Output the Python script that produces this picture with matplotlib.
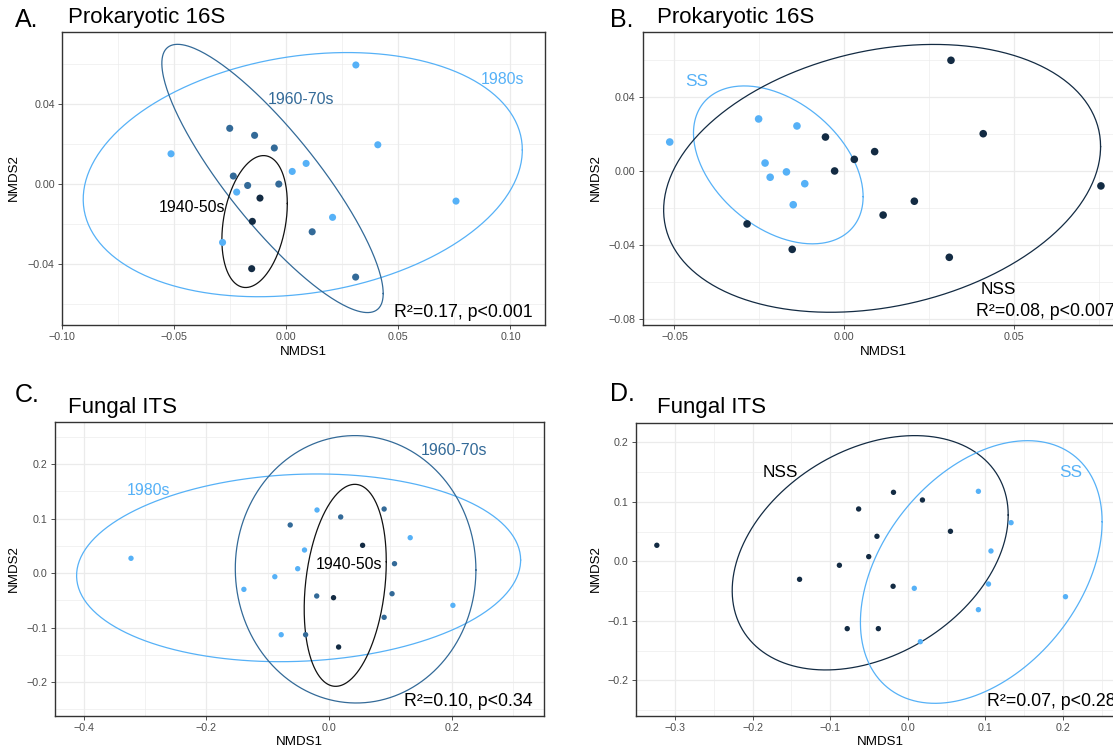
import numpy as np
import matplotlib
matplotlib.use("Agg")
import matplotlib.pyplot as plt
from matplotlib.ticker import FixedLocator, FuncFormatter

plt.rcParams['font.family'] = ['Liberation Sans', 'DejaVu Sans']

# ---------------- data ----------------
# Panel A: prokaryotic 16S, by decade
a_1980s_x = [-0.0515, 0.0310, 0.0408, 0.0757, 0.0088, 0.0026, -0.0222, 0.0206, -0.0285]
a_1980s_y = [0.0151, 0.0594, 0.0196, -0.0085, 0.0103, 0.0063, -0.0040, -0.0166, -0.0291]
a_1960_x = [-0.0253, -0.0142, -0.0054, -0.0237, -0.0173, -0.0034, 0.0115, 0.0309]
a_1960_y = [0.0278, 0.0243, 0.0180, 0.0040, -0.0007, 0.0000, -0.0238, -0.0464]
a_1940_x = [-0.0118, -0.0152, -0.0155]
a_1940_y = [-0.0070, -0.0186, -0.0422]

# Panel B: prokaryotic 16S, SS vs NSS
b_ss_x = [-0.0514, -0.0252, -0.0139, -0.0233, -0.0218, -0.0170, -0.0116, -0.0150]
b_ss_y = [0.0157, 0.0282, 0.0244, 0.0043, -0.0034, -0.0005, -0.0069, -0.0183]
b_nss_x = [0.0315, 0.0410, -0.0055, 0.0090, 0.0030, -0.0028, 0.0757, 0.0207, 0.0115, -0.0286, -0.0153, 0.0310]
b_nss_y = [0.0600, 0.0202, 0.0184, 0.0105, 0.0063, 0.0000, -0.0081, -0.0164, -0.0239, -0.0287, -0.0425, -0.0468]

# Panel C: fungal ITS, by decade
c_1980s_x = [-0.3226, -0.1386, -0.0882, -0.0778, -0.0509, -0.0398, -0.0194, 0.1325, 0.2021]
c_1980s_y = [0.0270, -0.0300, -0.0068, -0.1132, 0.0079, 0.0422, 0.1156, 0.0648, -0.0593]
c_1960_x = [-0.0631, 0.0192, 0.0900, 0.1069, 0.1029, 0.0900, -0.0199, -0.0380]
c_1960_y = [0.0881, 0.1028, 0.1174, 0.0171, -0.0380, -0.0813, -0.0422, -0.1132]
c_1940_x = [0.0549, 0.0075, 0.0158]
c_1940_y = [0.0508, -0.0453, -0.1358]

# Panel D: fungal ITS, SS vs NSS
d_nss_x = [-0.3233, -0.1394, -0.0881, -0.0780, -0.0503, -0.0397, -0.0379, -0.0633, -0.0184, -0.0189, 0.0189, 0.0550]
d_nss_y = [0.0269, -0.0303, -0.0067, -0.1132, 0.0078, 0.0420, -0.1132, 0.0879, 0.1159, -0.0420, 0.1030, 0.0504]
d_ss_x = [0.0910, 0.1331, 0.1072, 0.1040, 0.0084, 0.0910, 0.0162, 0.2032]
d_ss_y = [0.1176, 0.0649, 0.0173, -0.0382, -0.0454, -0.0813, -0.1351, -0.0595]

# 95% ellipses: centre x, centre y, half x-extent, half y-extent, y-offset of rightmost point
a_ell_1980s = [0.0073, 0.0047, 0.0980, 0.0609, 0.0123]
a_ell_1960 = [-0.0062, 0.0028, 0.0494, 0.0669, -0.0574]
a_ell_1940 = [-0.0142, -0.0187, 0.0146, 0.0329, 0.0090]
b_ell_ss = [-0.0194, 0.0033, 0.0250, 0.0428, -0.0172]
b_ell_nss = [0.0112, -0.0040, 0.0644, 0.0726, 0.0172]
c_ell_1980s = [-0.0494, 0.0095, 0.3619, 0.1722, 0.0143]
c_ell_1960 = [0.0435, 0.0068, 0.1961, 0.2453, -0.0013]
c_ell_1940 = [0.0266, -0.0226, 0.0669, 0.1853, 0.0433]
d_ell_nss = [-0.0484, 0.0143, 0.1778, 0.1969, 0.0635]
d_ell_ss = [0.0947, -0.0180, 0.1557, 0.2207, 0.0845]

stats_text = ["R\u00b2=0.17, p<0.001", "R\u00b2=0.08, p<0.007",
              "R\u00b2=0.10, p<0.34", "R\u00b2=0.07, p<0.28"]
panel_letters = ["A.", "B.", "C.", "D."]
panel_titles = ["Prokaryotic 16S", "Prokaryotic 16S", "Fungal ITS", "Fungal ITS"]

# ---------------- style ----------------
LIGHT = "#56B1F7"
MID = "#336A98"
DARK = "#132B43"
BLACKISH = "#111111"

W, H = 1113, 752
fig = plt.figure(figsize=(W / 100, H / 100), dpi=100)


def px_axes(left, top, right, bottom):
    return fig.add_axes([left / W, 1 - bottom / H, (right - left) / W, (bottom - top) / H])


def ftext(x, y, s, **kw):
    fig.text(x / W, 1 - y / H, s, **kw)


def fmt(dec):
    def f(v, _):
        s = f"{v:.{dec}f}"
        if float(s) == 0:
            s = f"{0:.{dec}f}"
        return s.replace('-', '\u2212')
    return FuncFormatter(f)


def style_axes(ax, xlim, ylim, xmaj, ymaj, xmin, ymin, dec):
    ax.set_xlim(*xlim)
    ax.set_ylim(*ylim)
    ax.xaxis.set_major_locator(FixedLocator(xmaj))
    ax.yaxis.set_major_locator(FixedLocator(ymaj))
    ax.xaxis.set_minor_locator(FixedLocator(xmin))
    ax.yaxis.set_minor_locator(FixedLocator(ymin))
    ax.xaxis.set_major_formatter(fmt(dec))
    ax.yaxis.set_major_formatter(fmt(dec))
    ax.grid(True, which='major', color='#EBEBEB', linewidth=0.9)
    ax.grid(True, which='minor', color='#EBEBEB', linewidth=0.45)
    ax.set_axisbelow(True)
    ax.tick_params(which='major', direction='out', length=3, width=0.6, color='#333333',
                   labelsize=7.7, labelcolor='#4D4D4D', pad=2)
    ax.tick_params(which='minor', length=0)
    for sp in ax.spines.values():
        sp.set_color('#333333')
        sp.set_linewidth(1.0)


def ellipse(ax, p, color):
    cx, cy, wx, hy, ry = p
    t = np.linspace(0, 2 * np.pi, 300)
    ax.plot(cx + wx * np.cos(t), cy + ry * np.cos(t) + np.sqrt(hy ** 2 - ry ** 2) * np.sin(t),
            color=color, linewidth=0.9, zorder=2)


def pts(ax, x, y, color, s):
    ax.scatter(x, y, s=s, color=color, edgecolors='none', zorder=3)


ANN = 11.4
STAT = 12.8

# ---- Panel A ----
axA = px_axes(61.7, 31.7, 544.5, 325)
style_axes(axA, (-0.1003, 0.1152), (-0.0703, 0.0760),
           [-0.10, -0.05, 0.0, 0.05, 0.10], [-0.04, 0.0, 0.04],
           [-0.075, -0.025, 0.025, 0.075], [-0.06, -0.02, 0.02, 0.06], 2)
ellipse(axA, a_ell_1980s, LIGHT)
ellipse(axA, a_ell_1960, MID)
ellipse(axA, a_ell_1940, BLACKISH)
pts(axA, a_1980s_x, a_1980s_y, LIGHT, 26)
pts(axA, a_1960_x, a_1960_y, MID, 26)
pts(axA, a_1940_x, a_1940_y, DARK, 26)
axA.text(0.0965, 0.0524, "1980s", color=LIGHT, fontsize=ANN, ha='center', va='center')
axA.text(0.0066, 0.0424, "1960-70s", color=MID, fontsize=ANN, ha='center', va='center')
axA.text(-0.0422, -0.0116, "1940-50s", color='black', fontsize=ANN, ha='center', va='center')
axA.text(0.0482, -0.0640, stats_text[0], color='black', fontsize=STAT, ha='left', va='center')

# ---- Panel B ----
axB = px_axes(642.6, 31.7, 1124, 325)
style_axes(axB, (-0.0594, 0.0825), (-0.0835, 0.0755),
           [-0.05, 0.0, 0.05], [-0.08, -0.04, 0.0, 0.04],
           [-0.025, 0.025, 0.075], [-0.06, -0.02, 0.02, 0.06], 2)
axB.spines['right'].set_visible(False)
ellipse(axB, b_ell_ss, LIGHT)
ellipse(axB, b_ell_nss, DARK)
pts(axB, b_ss_x, b_ss_y, LIGHT, 30)
pts(axB, b_nss_x, b_nss_y, DARK, 30)
axB.text(-0.0435, 0.0484, "SS", color=LIGHT, fontsize=ANN + 1, ha='center', va='center')
axB.text(0.0455, -0.0645, "NSS", color='black', fontsize=ANN + 1, ha='center', va='center')
axB.text(0.0389, -0.0763, stats_text[1], color='black', fontsize=STAT, ha='left', va='center')

# ---- Panel C ----
axC = px_axes(54.5, 422.3, 543.7, 715.7)
style_axes(axC, (-0.4473, 0.3501), (-0.2618, 0.2765),
           [-0.4, -0.2, 0.0, 0.2], [-0.2, -0.1, 0.0, 0.1, 0.2],
           [-0.3, -0.1, 0.1, 0.3], [-0.25, -0.15, -0.05, 0.05, 0.15, 0.25], 1)
ellipse(axC, c_ell_1980s, LIGHT)
ellipse(axC, c_ell_1960, MID)
ellipse(axC, c_ell_1940, BLACKISH)
pts(axC, c_1980s_x, c_1980s_y, LIGHT, 15)
pts(axC, c_1960_x, c_1960_y, MID, 15)
pts(axC, c_1940_x, c_1940_y, DARK, 15)
axC.text(0.2033, 0.2239, "1960-70s", color=MID, fontsize=ANN, ha='center', va='center')
axC.text(-0.2946, 0.1505, "1980s", color=LIGHT, fontsize=ANN, ha='center', va='center')
axC.text(0.0321, 0.0165, "1940-50s", color='black', fontsize=ANN, ha='center', va='center')
axC.text(0.1226, -0.2349, stats_text[2], color='black', fontsize=STAT, ha='left', va='center')

# ---- Panel D ----
axD = px_axes(635.8, 422.7, 1124, 716)
style_axes(axD, (-0.3504, 0.2786), (-0.2600, 0.2329),
           [-0.3, -0.2, -0.1, 0.0, 0.1, 0.2], [-0.2, -0.1, 0.0, 0.1, 0.2],
           [-0.35, -0.25, -0.15, -0.05, 0.05, 0.15, 0.25], [-0.25, -0.15, -0.05, 0.05, 0.15], 1)
axD.spines['right'].set_visible(False)
ellipse(axD, d_ell_nss, DARK)
ellipse(axD, d_ell_ss, LIGHT)
pts(axD, d_nss_x, d_nss_y, DARK, 15)
pts(axD, d_ss_x, d_ss_y, LIGHT, 15)
axD.text(-0.1639, 0.1496, "NSS", color='black', fontsize=ANN + 1, ha='center', va='center')
axD.text(0.2102, 0.1496, "SS", color=LIGHT, fontsize=ANN + 1, ha='center', va='center')
axD.text(0.1017, -0.2348, stats_text[3], color='black', fontsize=STAT, ha='left', va='center')

# ---- titles, letters, axis labels ----
ftext(15, 20, panel_letters[0], fontsize=18, ha='left', va='center')
ftext(68, 17, panel_titles[0], fontsize=16, ha='left', va='center')
ftext(609.6, 20, panel_letters[1], fontsize=18, ha='left', va='center')
ftext(657, 17, panel_titles[1], fontsize=16, ha='left', va='center')
ftext(14.3, 395, panel_letters[2], fontsize=18, ha='left', va='center')
ftext(68, 408, panel_titles[2], fontsize=16, ha='left', va='center')
ftext(56.6 + 553, 394, panel_letters[3], fontsize=18, ha='left', va='center')
ftext(657, 407, panel_titles[3], fontsize=16, ha='left', va='center')

for (xc, yc) in [(303, 351.7), (883, 351.7), (299, 741.7), (880, 741.7)]:
    ftext(xc, yc, "NMDS1", fontsize=9.6, ha='center', va='center')
for (xc, yc) in [(14.3, 178), (596, 178), (14.3, 569), (596, 569)]:
    ftext(xc, yc, "NMDS2", fontsize=9.6, ha='center', va='center', rotation=90)

fig.savefig("out.png", dpi=100)
